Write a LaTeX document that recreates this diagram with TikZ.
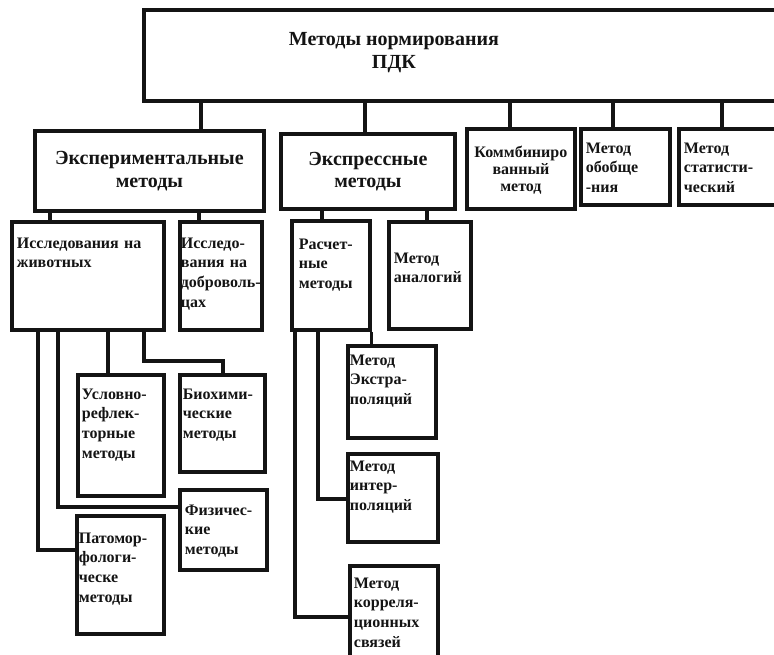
\documentclass[tikz,border=0pt]{standalone}
\usepackage{fontspec}
\setmainfont{Liberation Serif}
\newfontfamily\pdkserif{Liberation Serif}
\usepackage{tikz}
\usetikzlibrary{positioning, calc}
\definecolor{PDKInk}{RGB}{20, 20, 20}

\begin{document}
\begin{tikzpicture}[x=1pt, y=-1pt,
    blok/.style={draw=PDKInk, line width=3.8pt, fill=white, anchor=north west,
      inner xsep=4pt, inner ysep=2pt, align=left, text=PDKInk,
      font=\pdkserif\bfseries\fontsize{16}{19.6}\selectfont},
    bigtxt/.style={font=\pdkserif\bfseries\fontsize{20}{22.5}\selectfont, text=PDKInk, align=center},
    svyaz/.style={draw=PDKInk, line width=3.3pt}
  ]
  \useasboundingbox (0,0) rectangle (774,654);
  \clip (0,0) rectangle (774,654);

  % top level
  \node[blok, minimum width=648pt, minimum height=91pt,
    label={[bigtxt, xshift=-74pt, yshift=3pt]center:Методы нормирования\\ПДК}] (pdk) at (142,8) {};

  % second row
  \node[blok, bigtxt, minimum width=229pt, minimum height=80pt, text width=221pt] (eksper) at (33,129)
    {Экспериментальные\\методы};
  \node[blok, bigtxt, minimum width=174pt, minimum height=75pt, text width=166pt] (ekspres) at (279,132)
    {Экспрессные\\методы};
  \node[blok, align=center, font=\pdkserif\bfseries\fontsize{16}{17}\selectfont,
    minimum width=108pt, minimum height=80pt, text width=104pt, inner xsep=2pt, text depth=33.5pt] (komb) at (465,127)
    {Коммбиниро\\ванный\\метод};
  \node[blok, minimum width=89pt, minimum height=76pt, text width=79pt, inner xsep=5pt, text depth=37.5pt] (obob) at (579,127)
    {Метод\\обобще\\-ния};
  \node[blok, minimum width=120pt, minimum height=76pt, text width=110pt, inner xsep=5pt, text depth=37.5pt] (stat) at (677,127)
    {Метод\\статисти-\\ческий};

  % third row
  \node[blok, minimum width=152pt, minimum height=108pt, text width=142pt, inner xsep=5pt, text depth=65.5pt] (issl) at (10,220)
    {Исследования на\\животных};
  \node[blok, minimum width=82pt, minimum height=108pt, text width=80pt, inner xsep=1pt, text depth=65.5pt] (dobr) at (178,220)
    {Исследо-\\вания на\\\mbox{доброволь-}\\цах};
  \node[blok, minimum width=78pt, minimum height=109pt, text width=64pt, inner xsep=7pt, text depth=62.5pt] (rasch) at (290,219)
    {Расчет-\\ные\\методы};
  \node[blok, minimum width=82pt, minimum height=107pt, text width=72pt, inner xsep=5pt, text depth=34.5pt] (analog) at (387,220)
    {Метод\\аналогий};

  % animal studies
  \node[blok, minimum width=86pt, minimum height=121pt, text width=78pt, text depth=82.5pt] (uslov) at (76,373)
    {Условно-\\рефлек-\\торные\\методы};
  \node[blok, minimum width=85pt, minimum height=97pt, text width=79pt, inner xsep=3pt, text depth=58.5pt] (bioh) at (178,373)
    {Биохими-\\ческие\\методы};
  \node[blok, minimum width=87pt, minimum height=80pt, text width=77pt, inner xsep=5pt, text depth=39.5pt] (fiz) at (178,488)
    {Физичес-\\кие\\методы};
  \node[blok, minimum width=87pt, minimum height=118pt, text width=83pt, inner xsep=2pt, text depth=73.5pt] (patom) at (75,514)
    {Патомор-\\фологи-\\ческе\\методы};

  % calculation methods
  \node[blok, minimum width=88pt, minimum height=92pt, text width=84pt, inner xsep=2pt, text depth=63.5pt] (ekstra) at (346,344)
    {Метод\\Экстра-\\поляций};
  \node[blok, minimum width=90pt, minimum height=88pt, text width=86pt, inner xsep=2pt, text depth=63.5pt] (inter) at (346,452)
    {Метод\\интер-\\поляций};
  \node[blok, minimum width=88pt, minimum height=100pt, text width=80pt, text depth=65.5pt] (korr) at (348,564)
    {Метод\\корреля-\\ционных\\связей};

  % connectors
  \draw[svyaz] ([xshift=51.5pt]eksper.north) -- ([xshift=51.5pt]eksper.north |- pdk.south);
  \draw[svyaz] ([xshift=-3pt]ekspres.north) -- ([xshift=-3pt]ekspres.north |- pdk.south);
  \draw[svyaz] ([xshift=-11pt]komb.north) -- ([xshift=-11pt]komb.north |- pdk.south);
  \draw[svyaz] ([xshift=-12.5pt]obob.north) -- ([xshift=-12.5pt]obob.north |- pdk.south);
  \draw[svyaz] ([xshift=45pt]stat.north west) -- ([xshift=45pt]stat.north west |- pdk.south);

  \draw[svyaz] ([xshift=40pt]issl.north west) -- ([xshift=40pt]issl.north west |- eksper.south);
  \draw[svyaz] ([xshift=21pt]dobr.north west) -- ([xshift=21pt]dobr.north west |- eksper.south);
  \draw[svyaz] ([xshift=32pt]rasch.north west) -- ([xshift=32pt]rasch.north west |- ekspres.south);
  \draw[svyaz] ([xshift=40pt]analog.north west) -- ([xshift=40pt]analog.north west |- ekspres.south);

  \draw[svyaz] ([xshift=28pt]issl.south west) |- ([yshift=-36pt]patom.north west);
  \draw[svyaz] ([xshift=48pt]issl.south west) |- ([yshift=-19pt]fiz.north west);
  \draw[svyaz] ([xshift=32pt]uslov.north west |- issl.south) -- ([xshift=32pt]uslov.north west);
  \draw[svyaz] ([xshift=134pt]issl.south west) |- ([xshift=45pt, yshift=12pt]bioh.north west)
    -- ([xshift=45pt]bioh.north west);

  \draw[svyaz] ([xshift=5pt]rasch.south west) |- ([yshift=-53pt]korr.north west);
  \draw[svyaz] ([xshift=28pt]rasch.south west) |- ([yshift=-47pt]inter.north west);
  \draw[svyaz] (rasch.south east) -- (rasch.south east |- ekstra.north);
\end{tikzpicture}
\end{document}
